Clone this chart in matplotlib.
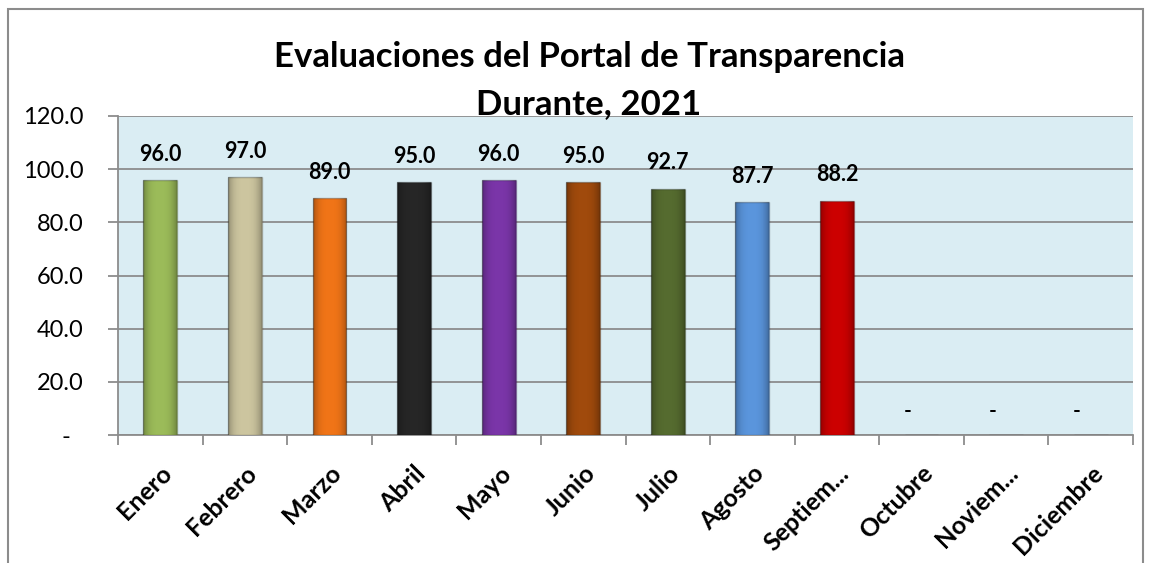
import matplotlib
matplotlib.use("Agg")
import matplotlib.pyplot as plt
import numpy as np
from matplotlib.patches import Rectangle

# datos
meses = ["Enero", "Febrero", "Marzo", "Abril", "Mayo", "Junio", "Julio",
         "Agosto", "Septiem...", "Octubre", "Noviem...", "Diciembre"]
valores = [96.0, 97.0, 89.0, 95.0, 96.0, 95.0, 92.7, 87.7, 88.2, 0, 0, 0]
colores = ["#9BBB59", "#CCC59F", "#F07417", "#262626", "#7A35A8", "#A04A0C",
           "#556B2F", "#5A95DC", "#CC0000", "#CC0000", "#CC0000", "#CC0000"]
y_ticks = [0, 20, 40, 60, 80, 100, 120]
y_labels = ["-  ", "20.0", "40.0", "60.0", "80.0", "100.0", "120.0"]
titulo = ["Evaluaciones del Portal de Transparencia", "Durante, 2021"]

plt.rcParams["font.family"] = ["Lato", "DejaVu Sans"]

W, H = 1149, 563
fig = plt.figure(figsize=(W / 100, H / 100), dpi=100)
ax = fig.add_axes([118 / W, 1 - 435 / H, (1133 - 118) / W, (435 - 116) / H])

# marco exterior del grafico
fig.patches.append(Rectangle((8 / W, -0.1), (1143 - 8) / W, 1.1 - 9 / H,
                             transform=fig.transFigure, fill=False,
                             edgecolor="#8c8c8c", linewidth=1.5))

ax.set_facecolor("#DAEDF3")
x = list(range(len(meses)))
barras = ax.bar(x, valores, width=0.4, color=colores, edgecolor="#00000040",
                linewidth=1, zorder=3)

# sombreado suave en los bordes de cada barra (efecto bisel)
sombra = np.zeros((1, 40, 4))
t = np.abs(np.linspace(-1, 1, 40))
sombra[0, :, 3] = 0.28 * t ** 3
for b in barras:
    if b.get_height() <= 0:
        continue
    im = ax.imshow(sombra, extent=(b.get_x(), b.get_x() + b.get_width(), 0, b.get_height()),
                   aspect="auto", zorder=4, interpolation="bilinear")
    im.set_clip_path(b)

for i, v in enumerate(valores):
    if v == 0:
        ax.annotate("-", (i, v), xytext=(-10, 10), textcoords="offset points",
                    ha="center", va="bottom", fontsize=15, fontweight="bold")
    else:
        ax.annotate(f"{v:.1f}", (i, v), xytext=(0, 11), textcoords="offset points",
                    ha="center", va="bottom", fontsize=15.5, fontweight="bold")

ax.set_xlim(-0.5, 11.5)
ax.set_ylim(0, 120)
ax.set_yticks(y_ticks)
ax.set_yticklabels(y_labels, fontsize=17)
ax.grid(axis="y", color="#8c8c8c", linewidth=1.3, zorder=1)

ax.set_xticks([i - 0.5 for i in range(13)])
ax.set_xticklabels([])
ax.set_xticks(x, minor=True)
ax.set_xticklabels(meses, minor=True, rotation=45, ha="right",
                   rotation_mode="anchor", fontsize=18, fontweight="bold")
ax.tick_params(axis="x", which="minor", length=0, pad=19)
ax.tick_params(axis="x", which="major", length=7, color="#8c8c8c", width=1.3)
ax.tick_params(axis="y", length=7, color="#8c8c8c", width=1.3, pad=18)

for s in ["top", "right"]:
    ax.spines[s].set_visible(False)
for s in ["left", "bottom"]:
    ax.spines[s].set_color("#8c8c8c")
    ax.spines[s].set_linewidth(1.3)

fig.text(589 / W, 1 - 57 / H, titulo[0], ha="center", va="center",
         fontsize=25, fontweight="bold")
fig.text(589 / W, 1 - 104 / H, titulo[1], ha="center", va="center",
         fontsize=25, fontweight="bold")

fig.savefig("out.png", dpi=100)
